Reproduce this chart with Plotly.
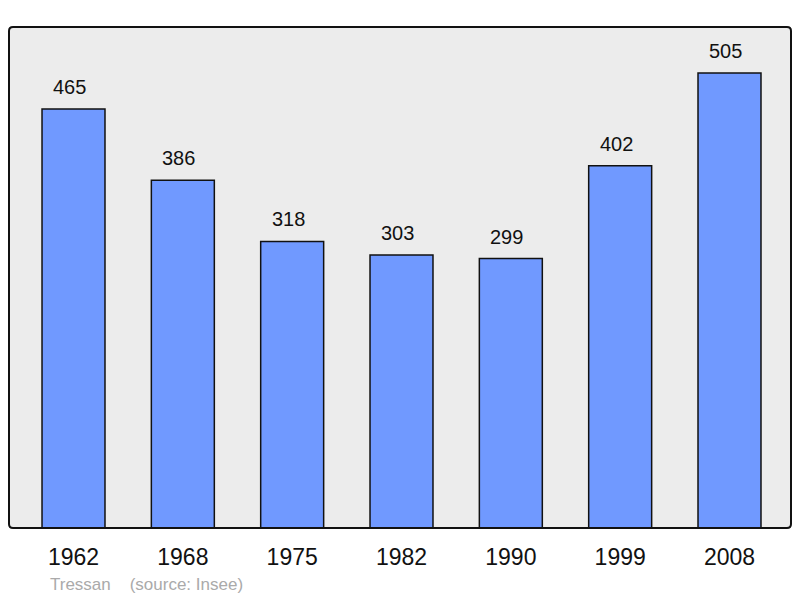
import plotly.graph_objects as go

years = ["1962", "1968", "1975", "1982", "1990", "1999", "2008"]
population = [465, 386, 318, 303, 299, 402, 505]
positions = list(range(len(years)))

# page body has an 8px margin, so figure coordinates are offset by 8px
fig = go.Figure()
fig.add_trace(go.Bar(
    x=positions, y=population, width=0.576,
    marker=dict(color="#7099ff", line=dict(color="#111111", width=1.5)),
    hoverinfo="skip",
))
for xi, v in zip(positions, population):
    fig.add_annotation(x=xi, y=v, text=str(v), showarrow=False, yanchor="bottom",
                       yshift=9, xshift=-4,
                       font=dict(size=20, color="#111111", family="Liberation Sans"))

rx, ry = 4 / 782, 4 / 501
frame = (f"M {rx},0 L {1-rx},0 Q 1,0 1,{ry} L 1,{1-ry} Q 1,1 {1-rx},1 "
         f"L {rx},1 Q 0,1 0,{1-ry} L 0,{ry} Q 0,0 {rx},0 Z")
fig.add_shape(type="path", xref="paper", yref="paper", path=frame,
              line=dict(color="#111111", width=2), layer="above")
fig.add_annotation(xref="paper", yref="paper", x=39/782, y=-56/501, xanchor="left",
                   yanchor="middle", showarrow=False, text="Tressan&nbsp;&nbsp;&nbsp;&nbsp;(source: Insee)",
                   font=dict(size=17, color="#aaaaaa", family="Liberation Sans"))

fig.update_layout(
    width=800, height=598,
    margin=dict(l=1, r=17, t=19, b=78),
    paper_bgcolor="white", plot_bgcolor="#ececec",
    showlegend=False,
    xaxis=dict(range=[-0.59, 6.5625], tickvals=positions, ticktext=years, showgrid=False,
               zeroline=False, ticks="outside", ticklen=8, tickcolor="rgba(0,0,0,0)",
               tickfont=dict(size=23, color="#111111", family="Liberation Sans")),
    yaxis=dict(range=[0, 556], showgrid=False, zeroline=False, showticklabels=False),
)
fig.write_html("out.html")
